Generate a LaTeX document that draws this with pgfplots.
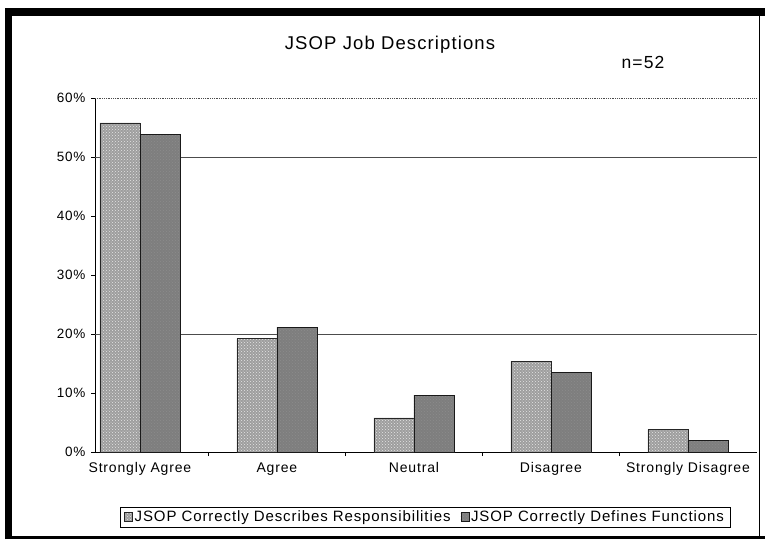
\documentclass[border=0pt]{standalone}
\usepackage{pgfplots}
\pgfplotsset{compat=1.18}
\usepackage{fontspec}
\setmainfont{Liberation Sans}
\newfontfamily\chartfont[LetterSpace=6]{Liberation Sans}
\usetikzlibrary{patterns}

\definecolor{barA}{HTML}{9E9E9E}
\definecolor{barB}{HTML}{7E7E7E}

\begin{document}
\begin{tikzpicture}[x=1pt,y=1pt]
% page frame
\useasboundingbox (0,0) rectangle (765,539);
\fill[white] (0,0) rectangle (765,539);
\draw[line width=7pt] (8.5,0) -- (8.5,527);
\draw[line width=8pt] (5,527) -- (765,527);
\draw[line width=3pt] (5,1.5) -- (765,1.5);
\draw[line width=0.8pt] (759,3) -- (759,523);

\node[font=\chartfont\fontsize{18.5}{20}\selectfont] at (390,494) {JSOP Job Descriptions};
\node[font=\chartfont\fontsize{17.5}{19}\selectfont] at (643,477) {n=52};

\begin{axis}[
  at={(95pt,87pt)}, anchor=south west,
  scale only axis, width=662pt, height=354pt,
  ybar=0pt, bar width=40pt,
  xmin=-0.328, xmax=4.504,
  ymin=0, ymax=60,
  axis x line*=bottom, axis y line*=left,
  axis line style={black, line width=0.6pt},
  xtick={0,1,2,3,4},
  xticklabels={Strongly Agree,Agree,Neutral,Disagree,Strongly Disagree},
  major x tick style={draw=none},
  minor xtick={0.5,1.5,2.5,3.5},
  minor x tick style={black, line width=0.5pt},
  minor tick length=4pt,
  ytick={0,10,...,60},
  yticklabel={\pgfmathprintnumber{\tick}\%},
  /pgf/number format/assume math mode=true,
  tick align=outside, major tick length=4pt,
  ytick style={black, line width=0.5pt},
  ticklabel style={font=\chartfont\fontsize{13.5}{15}\selectfont},
  xticklabel style={font=\chartfont\fontsize{14}{15}\selectfont, yshift=-3pt},
  yticklabel style={xshift=-2pt},
  extra y ticks={20,50},
  extra y tick labels={},
  extra y tick style={grid=major, major grid style={black!70, line width=0.6pt}, major tick length=0pt},
  legend style={at={(0.4985,-0.184)}, anchor=center, legend columns=2,
    draw=black, line width=0.6pt, font=\chartfont\fontsize{15}{17}\selectfont,
    inner xsep=4pt, inner ysep=2pt,
    /tikz/every even column/.append style={column sep=8pt}},
  legend image code/.code={\draw[#1, line width=0.5pt] (0pt,-4pt) rectangle (8pt,5pt);},
  clip=false,
]
\addplot[draw=black!85, line width=0.8pt, fill=barA,
  postaction={pattern=crosshatch dots, pattern color=white!80!gray}]
  coordinates {(0,55.77) (1,19.23) (2,5.77) (3,15.38) (4,3.85)};
\addlegendentry{JSOP Correctly Describes Responsibilities}
\addplot[draw=black!90, line width=0.8pt, fill=barB,
  postaction={pattern=crosshatch dots, pattern color=gray!90}]
  coordinates {(0,53.85) (1,21.15) (2,9.62) (3,13.46) (4,1.92)};
\addlegendentry{JSOP Correctly Defines Functions}
\draw[black!70, densely dotted, line width=0.8pt] (rel axis cs:0,1) -- (rel axis cs:1,1);
\end{axis}
\end{tikzpicture}
\end{document}
